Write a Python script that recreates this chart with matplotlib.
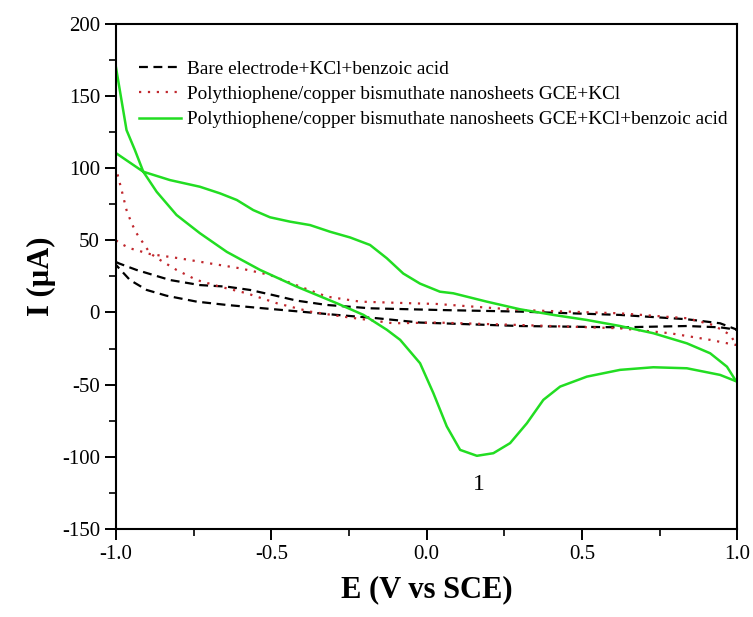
import numpy as np
import matplotlib
matplotlib.use("Agg")
import matplotlib.pyplot as plt
from matplotlib.ticker import MultipleLocator, FormatStrFormatter

plt.rcParams['font.family'] = ['Liberation Serif', 'DejaVu Serif']
plt.rcParams['axes.unicode_minus'] = False

# Bare electrode + KCl + benzoic acid (upper branch -> right end -> lower branch)
bare_E = [-1.0, -0.99, -0.934, -0.826, -0.73, -0.643, -0.568, -0.493, -0.418, -0.321, -0.182,
          0.043, 0.301, 0.623, 0.838, 0.945, 1.0,
          0.945, 0.838, 0.623, 0.301, -0.021, -0.16, -0.289, -0.407, -0.526, -0.643, -0.74,
          -0.837, -0.901, -0.955, -1.0]
bare_I = [35, 34, 29.5, 22.5, 19, 17.9, 15.6, 12, 8.2, 5.2, 2.9,
          1.7, 0.6, -1.7, -4.7, -7.5, -12,
          -10.3, -9.4, -10.3, -9.4, -7, -4, -1.7, 0.6, 2.9, 5.2, 7.5,
          11.6, 15.6, 22.5, 33]

# Polythiophene/copper bismuthate nanosheets GCE + KCl
ptkcl_E = [-1.0, -0.987, -0.955, -0.89, -0.794, -0.697, -0.6, -0.504, -0.407, -0.321, -0.214,
           -0.053, 0.032, 0.301, 0.623, 0.838, 0.923, 0.978, 0.994, 1.0,
           0.994, 0.913, 0.784, 0.623, 0.301, 0.032, -0.107, -0.268, -0.375, -0.482, -0.579,
           -0.665, -0.74, -0.805, -0.858, -0.89, -0.912, -0.934, -0.95, -0.966, -0.982, -1.0]
ptkcl_I = [50, 48, 44.5, 40.5, 37.5, 34, 30.6, 26, 17.9, 11, 7.5,
           6.4, 5.9, 1.7, -0.6, -4, -8.7, -15.6, -21.4, -22,
           -22.5, -19, -14.4, -11, -8.7, -7, -7.5, -2.9, 0.6, 6.4, 13.3,
           17.9, 22.5, 29.5, 36.4, 41, 48, 55, 62, 71, 85, 100]

# Polythiophene/copper bismuthate nanosheets GCE + KCl + benzoic acid
ptba_E = [-1.0, -0.912, -0.826, -0.73, -0.665, -0.611, -0.558, -0.504, -0.44, -0.375, -0.311,
          -0.246, -0.182, -0.128, -0.075, -0.021, 0.043, 0.086, 0.194, 0.301, 0.408, 0.516,
          0.623, 0.73, 0.838, 0.913, 0.967, 0.994, 1.0,
          0.945, 0.838, 0.73, 0.623, 0.516, 0.43, 0.376, 0.323, 0.269, 0.215, 0.162, 0.108,
          0.065, 0.022, -0.021, -0.085, -0.128, -0.203, -0.289, -0.418, -0.536, -0.643, -0.73,
          -0.805, -0.869, -0.912, -0.939, -0.966, -1.0]
ptba_I = [110.5, 97.6, 91.8, 87.2, 82.6, 78, 71, 66, 63, 60.6, 56,
          52, 46.8, 37.6, 27, 20, 14.4, 13.3, 7.5, 2.2, -1.7, -5.2,
          -9.4, -14.4, -21.4, -28.3, -37.6, -46.8, -48,
          -43.3, -38.7, -38, -39.8, -44.5, -51.4, -60.6, -76.8, -90.6, -97.6, -99.4, -95.3,
          -79, -56, -35.2, -19, -12, -1.7, 6.4, 17.9, 29.5, 42, 55,
          67.6, 83.7, 97.6, 112.6, 126.5, 170]

labels = ["Bare electrode+KCl+benzoic acid",
          "Polythiophene/copper bismuthate nanosheets GCE+KCl",
          "Polythiophene/copper bismuthate nanosheets GCE+KCl+benzoic acid"]

fig = plt.figure(figsize=(7.53, 6.17), dpi=100)
ax = fig.add_axes([0.154, 0.143, 0.825, 0.818])

ax.plot(bare_E, bare_I, color='black', linestyle=(0, (4, 2.5)), linewidth=1.6, label=labels[0])
ax.plot(ptkcl_E, ptkcl_I, color='#c0272d', linestyle=(0, (1, 3)), linewidth=1.6, label=labels[1])
ax.plot(ptba_E, ptba_I, color='#22dd22', linestyle='-', linewidth=1.8, label=labels[2],
        solid_joinstyle='round')

ax.text(0.167, -119, "1", fontsize=17, ha='center', va='center')

ax.set_xlim(-1.0, 1.0)
ax.set_ylim(-150, 200)
ax.xaxis.set_major_locator(MultipleLocator(0.5))
ax.xaxis.set_minor_locator(MultipleLocator(0.25))
ax.yaxis.set_major_locator(MultipleLocator(50))
ax.yaxis.set_minor_locator(MultipleLocator(25))
ax.tick_params(which='major', direction='out', length=8, width=1.4, labelsize=15)
ax.tick_params(which='minor', direction='out', length=5, width=1.2)
ax.xaxis.set_major_formatter(FormatStrFormatter('%.1f'))
for s in ax.spines.values():
    s.set_linewidth(1.5)

ax.set_xlabel("E (V vs SCE)", fontsize=22, fontweight='bold', labelpad=8)
ax.set_ylabel("I (µA)", fontsize=22, fontweight='bold', labelpad=4)

ax.legend(loc='upper left', frameon=False, fontsize=13.9, handlelength=2.2,
          handletextpad=0.3, labelspacing=0.4, borderaxespad=0.2,
          bbox_to_anchor=(0.018, 0.951))

fig.savefig("out.png", dpi=100)
